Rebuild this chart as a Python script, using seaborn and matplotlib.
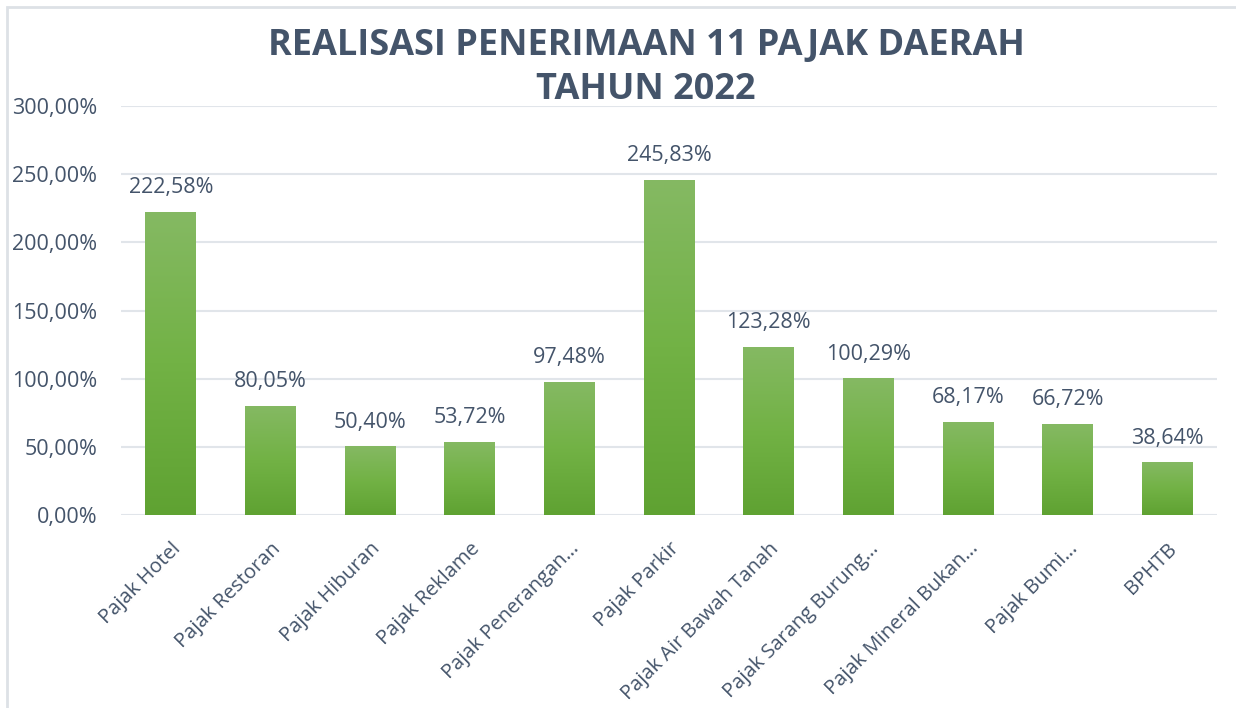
import numpy as np
import pandas as pd
import matplotlib
matplotlib.use('Agg')
import matplotlib.pyplot as plt
import seaborn as sns
from matplotlib.colors import LinearSegmentedColormap
from matplotlib.patches import Rectangle

# Data
categories = ['Pajak Hotel', 'Pajak Restoran', 'Pajak Hiburan', 'Pajak Reklame',
              'Pajak Penerangan…', 'Pajak Parkir', 'Pajak Air Bawah Tanah',
              'Pajak Sarang Burung…', 'Pajak Mineral Bukan…', 'Pajak Bumi…', 'BPHTB']
realisasi = [222.58, 80.05, 50.40, 53.72, 97.48, 245.83, 123.28, 100.29, 68.17, 66.72, 38.64]
y_ticks = [0, 50, 100, 150, 200, 250, 300]

df = pd.DataFrame({'kategori': categories, 'realisasi': realisasi})

sns.set_style('white')
plt.rcParams['font.family'] = ['Open Sans', 'DejaVu Sans']
text_color = '#44546a'
grid_color = '#e1e5ea'

fig = plt.figure(figsize=(12.36, 7.08), dpi=100)
ax = fig.add_axes([121 / 1236, 1 - 515 / 708, 1096 / 1236, 409 / 708])

sns.barplot(data=df, x='kategori', y='realisasi', color='#70b043', width=0.51,
            ax=ax, zorder=3)

# gradient fill for each bar
green = LinearSegmentedColormap.from_list('g', ['#5fa232', '#72b245', '#85b963'])
grad = np.linspace(0, 1, 256).reshape(-1, 1)
for bar in ax.patches:
    x0, y0 = bar.get_x(), bar.get_y()
    w, h = bar.get_width(), bar.get_height()
    bar.set_alpha(0)
    im = ax.imshow(grad, cmap=green, aspect='auto', origin='lower',
                   extent=[x0, x0 + w, y0, y0 + h], zorder=3)
    clip = Rectangle((x0, y0), w, h, transform=ax.transData)
    im.set_clip_path(clip)

for i, v in enumerate(realisasi):
    ax.text(i, v + 10, f'{v:.2f}%'.replace('.', ','), ha='center', va='bottom',
            fontsize=15.5, color=text_color, zorder=4)

ax.set_xlim(-0.5, len(categories) - 0.5)
ax.set_ylim(0, 300)
ax.set_yticks(y_ticks)
ax.set_yticklabels([f'{t:.2f}%'.replace('.', ',') for t in y_ticks])
ax.yaxis.grid(True, color=grid_color, linewidth=1.5, zorder=0)
ax.set_axisbelow(True)
for s in ax.spines.values():
    s.set_visible(False)
ax.tick_params(axis='y', length=0, labelsize=15.5, labelcolor=text_color, pad=17)
ax.tick_params(axis='x', length=0, labelsize=14.5, labelcolor=text_color, pad=17)
plt.setp(ax.get_xticklabels(), rotation=45, ha='right', rotation_mode='anchor')
ax.set_xlabel('')
ax.set_ylabel('')

fig.text(646 / 1236, 1 - 68 / 708, 'REALISASI PENERIMAAN 11 PAJAK DAERAH\nTAHUN 2022',
         ha='center', va='center', fontsize=26, fontweight='bold', color=text_color,
         linespacing=1.3)

# chart border (only top and left visible in the crop)
fig.patches.append(Rectangle((7 / 1236, -0.1), 1.2, 1 - 7 / 708 + 0.1,
                             transform=fig.transFigure, fill=False,
                             edgecolor='#dde1e6', linewidth=2))

fig.savefig('out.png', dpi=100)
